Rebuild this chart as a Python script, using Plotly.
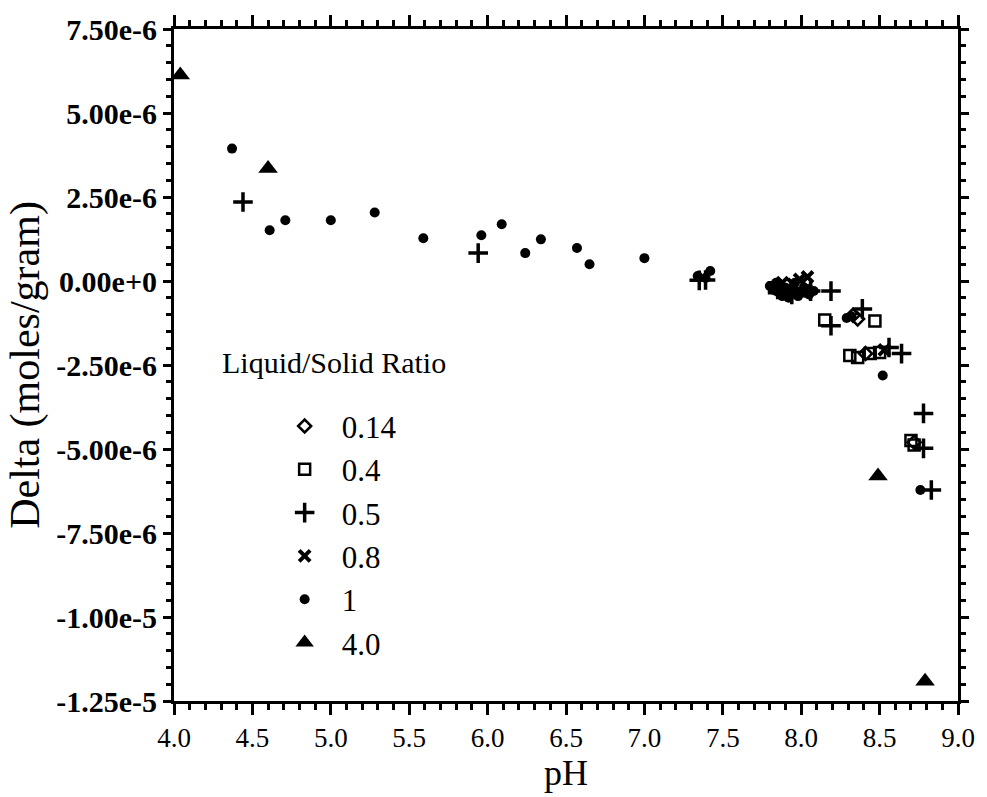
import plotly.graph_objects as go

# ---- data (pH, Delta in moles/gram) ----
ph_014 = [7.87, 8.36, 8.33, 8.41, 8.72]
d_014 = [-0.20e-6, -1.13e-6, -1.02e-6, -2.16e-6, -4.80e-6]

ph_04 = [7.83, 7.90, 7.97, 8.15, 8.47, 8.31, 8.36, 8.44, 8.50, 8.70, 8.72]
d_04 = [-0.20e-6, -0.35e-6, -0.20e-6, -1.16e-6, -1.19e-6, -2.22e-6, -2.28e-6,
        -2.16e-6, -2.13e-6, -4.75e-6, -4.88e-6]

ph_05 = [4.44, 5.94, 7.39, 7.35, 7.85, 7.94, 8.06, 8.19, 8.19, 8.39, 8.56,
         8.64, 8.78, 8.78, 8.83]
d_05 = [2.35e-6, 0.83e-6, 0.03e-6, 0.02e-6, -0.25e-6, -0.40e-6, -0.30e-6,
        -0.30e-6, -1.33e-6, -0.83e-6, -1.98e-6, -2.16e-6, -3.94e-6, -4.98e-6,
        -6.22e-6]

ph_08 = [7.88, 7.95, 7.99, 7.92, 8.03, 8.04, 8.53]
d_08 = [-0.05e-6, -0.10e-6, 0.05e-6, -0.25e-6, -0.25e-6, 0.12e-6, -2.05e-6]

ph_1 = [4.37, 4.61, 4.71, 5.00, 5.28, 5.59, 5.96, 6.09, 6.24, 6.34, 6.57,
        6.65, 7.00, 7.34, 7.39, 7.42, 7.80, 7.84, 7.88, 7.92, 7.96, 8.00,
        8.05, 7.86, 7.90, 8.02, 7.82, 7.86, 7.90, 7.94, 7.98, 8.02, 8.08,
        7.84, 7.96, 7.92, 8.29, 8.32, 8.52, 8.76]
d_1 = [3.94e-6, 1.51e-6, 1.81e-6, 1.81e-6, 2.04e-6, 1.27e-6, 1.36e-6, 1.69e-6,
       0.83e-6, 1.24e-6, 0.98e-6, 0.50e-6, 0.68e-6, 0.15e-6, 0.09e-6, 0.30e-6,
       -0.15e-6, -0.30e-6, -0.45e-6, -0.50e-6, -0.35e-6, -0.30e-6, -0.40e-6,
       -0.10e-6, -0.20e-6, -0.20e-6, -0.25e-6, -0.35e-6, -0.30e-6, -0.20e-6,
       -0.45e-6, -0.35e-6, -0.30e-6, -0.05e-6, -0.05e-6, -0.40e-6, -1.10e-6,
       -1.05e-6, -2.81e-6, -6.22e-6]

ph_40 = [4.04, 4.60, 8.49, 8.79]
d_40 = [6.13e-6, 3.35e-6, -5.80e-6, -11.91e-6]

series_names = ["0.14", "0.4", "0.5", "0.8", "1", "4.0"]

x_ticks = [4.0, 4.5, 5.0, 5.5, 6.0, 6.5, 7.0, 7.5, 8.0, 8.5, 9.0]
x_ticktext = ["4.0", "4.5", "5.0", "5.5", "6.0", "6.5", "7.0", "7.5", "8.0", "8.5", "9.0"]
y_ticks = [7.5e-6, 5e-6, 2.5e-6, 0.0, -2.5e-6, -5e-6, -7.5e-6, -1e-5, -1.25e-5]
y_ticktext = ["7.50e-6", "5.00e-6", "2.50e-6", "0.00e+0", "-2.50e-6",
              "-5.00e-6", "-7.50e-6", "-1.00e-5", "-1.25e-5"]

FONT = "Liberation Serif"

styles = [
    dict(symbol="diamond-open", size=10, line=dict(width=2.5, color="black")),
    dict(symbol="square-open", size=11, line=dict(width=2.5, color="black")),
    dict(symbol="cross-thin", size=14, line=dict(width=3.5, color="black")),
    dict(symbol="x-thin", size=11, line=dict(width=4, color="black")),
    dict(symbol="circle", size=10, line=dict(width=0)),
    dict(symbol="triangle-up", size=17, line=dict(width=0)),
]
xs = [ph_014, ph_04, ph_05, ph_08, ph_1, ph_40]
ys = [d_014, d_04, d_05, d_08, d_1, d_40]

fig = go.Figure()
for name, x, y, st in zip(series_names, xs, ys, styles):
    fig.add_trace(go.Scatter(x=x, y=y, mode="markers", name=name,
                             marker=dict(color="black", **st),
                             cliponaxis=False))

axis_common = dict(showline=True, linewidth=3, linecolor="black", mirror="allticks",
                   ticks="outside", tickwidth=2.5, tickcolor="black", showgrid=False,
                   zeroline=False)

fig.update_xaxes(range=[4, 9], tickmode="array", tickvals=x_ticks, ticktext=x_ticktext,
                 ticklen=11, tickfont=dict(family=FONT, size=27, color="black"),
                 minor=dict(dtick=0.1, tick0=4, ticklen=6, tickwidth=2.5, ticks="outside",
                            tickcolor="black", showgrid=False),
                 title=dict(text="pH", font=dict(family=FONT, size=36, color="black"),
                            standoff=6),
                 **axis_common)
fig.update_yaxes(range=[-1.25e-5, 7.5e-6], tickmode="array", tickvals=y_ticks,
                 ticktext=y_ticktext, ticklen=8,
                 tickfont=dict(family=FONT, size=30, color="black", weight="bold"),
                 minor=dict(dtick=0.5e-6, tick0=0, ticklen=5, tickwidth=2.5, ticks="outside",
                            tickcolor="black", showgrid=False),
                 title=dict(text="Delta (moles/gram)", font=dict(family=FONT, size=42, color="black"),
                            standoff=4),
                 **axis_common)

fig.add_annotation(text="Liquid/Solid Ratio", xref="paper", yref="paper",
                   x=(220 - 174) / 787, y=(702 - 362) / 675, xanchor="left", yanchor="middle",
                   showarrow=False, font=dict(family=FONT, size=30, color="black"))

fig.update_layout(
    width=987, height=797,
    margin=dict(l=174, r=26, t=27, b=95),
    paper_bgcolor="white", plot_bgcolor="white",
    showlegend=True,
    legend=dict(x=(268 - 174) / 787, y=(702 - 399) / 675, xanchor="left", yanchor="top",
                bgcolor="rgba(0,0,0,0)", font=dict(family=FONT, size=31, color="black"),
                itemwidth=64, borderwidth=0),
)

fig.write_html("out.html")
